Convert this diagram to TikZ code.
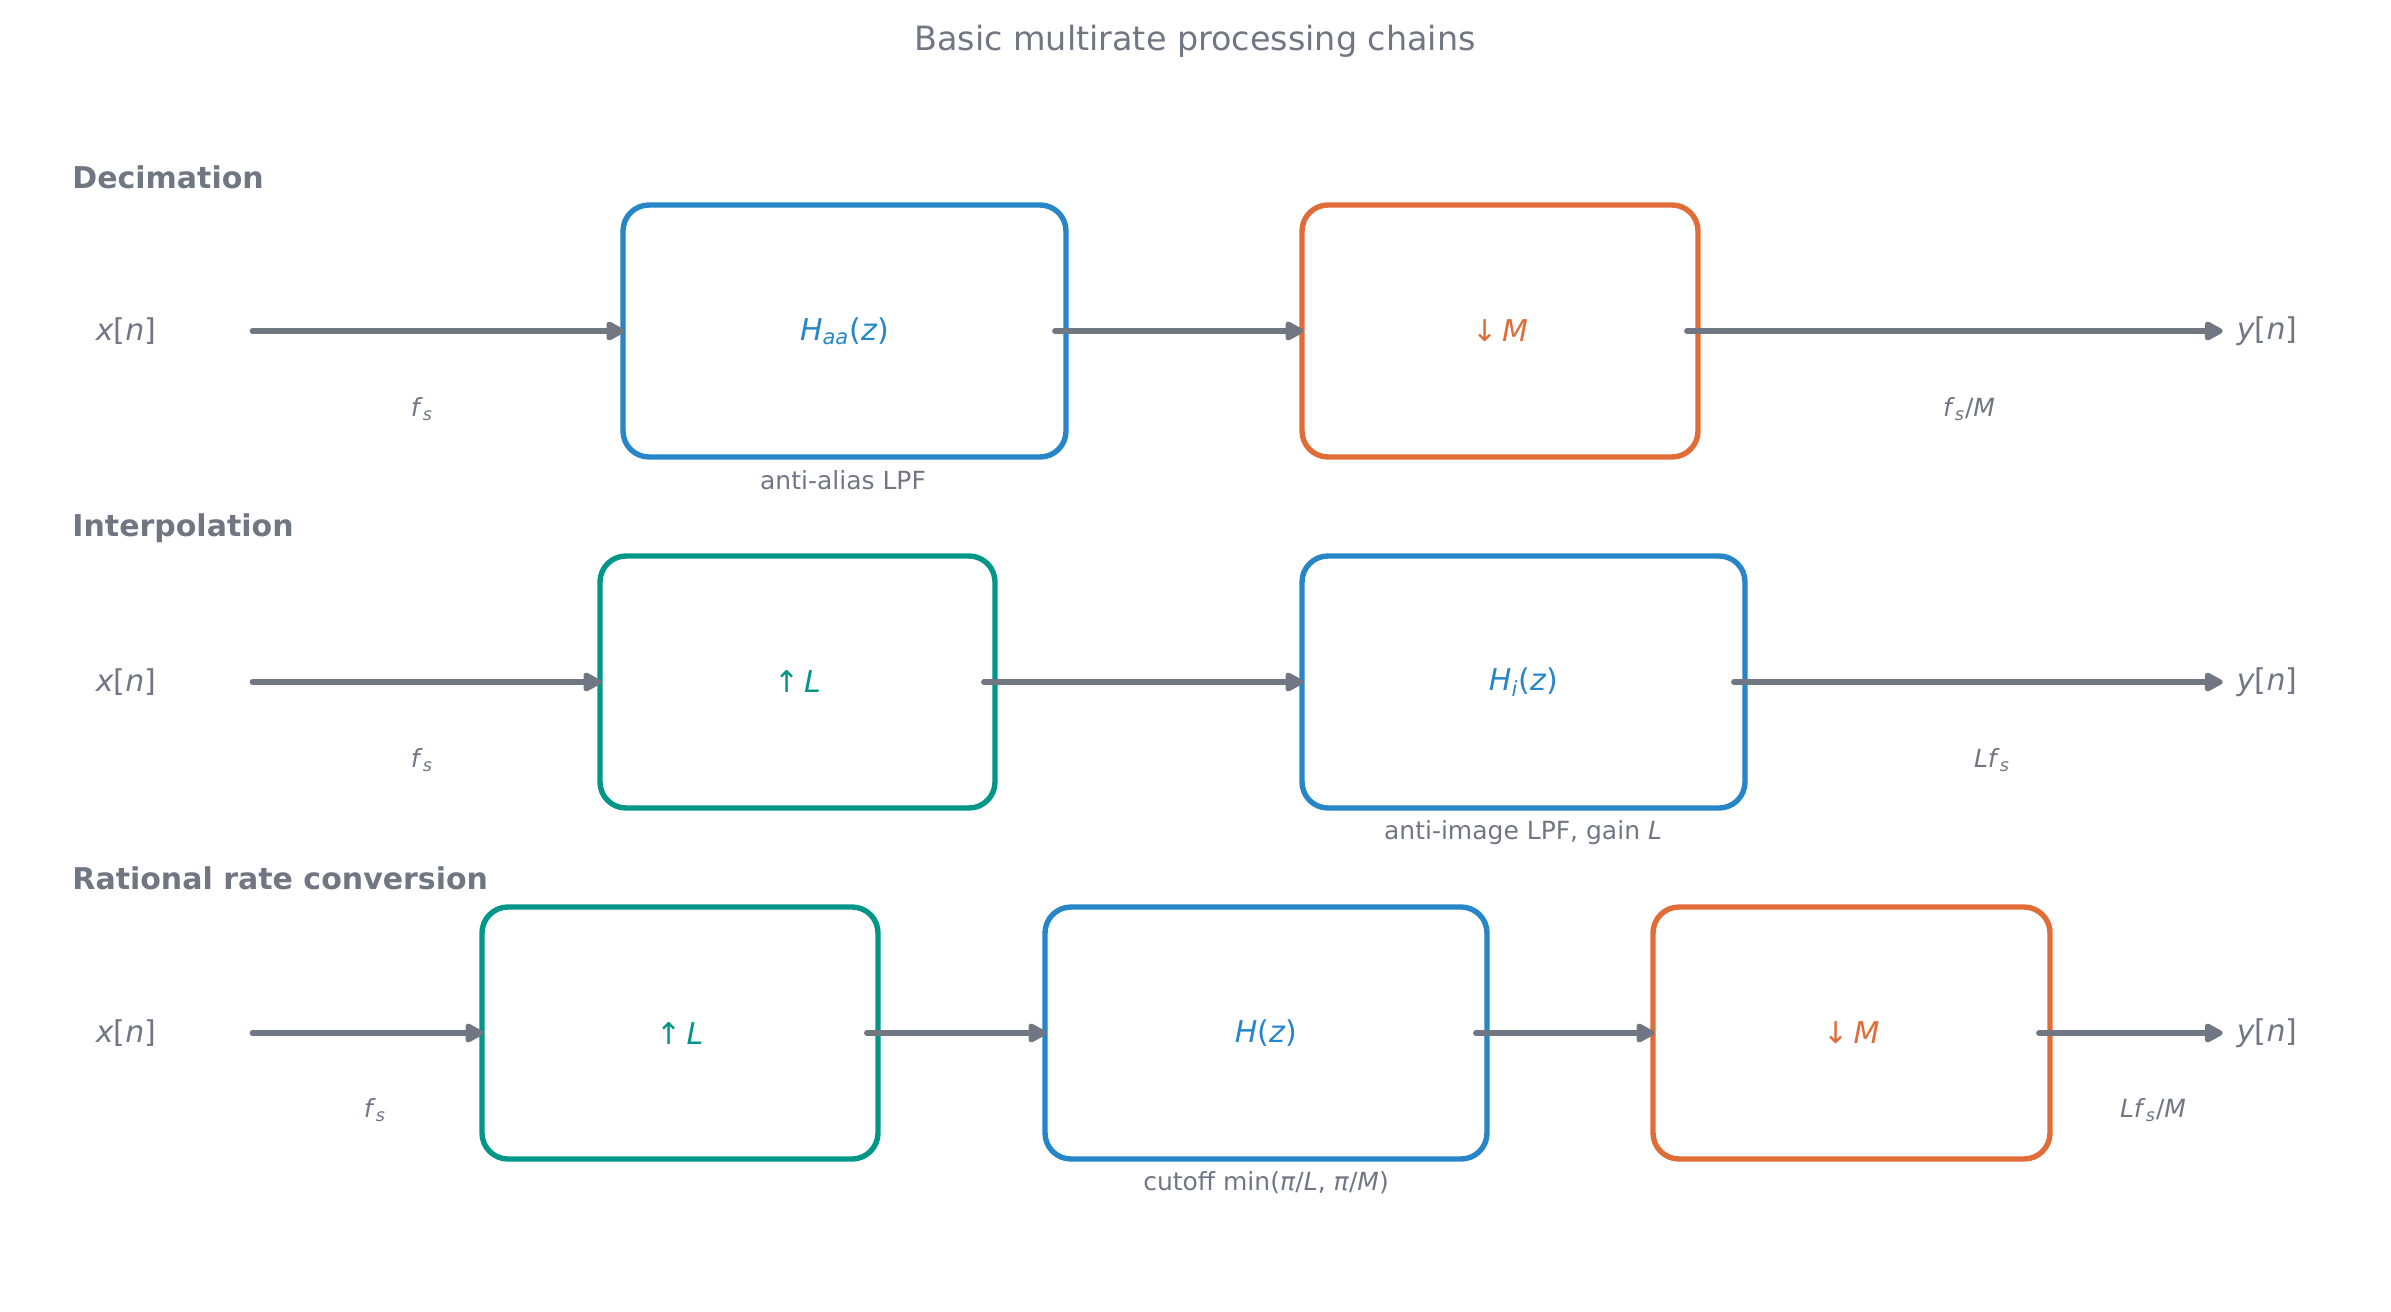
\documentclass[tikz,border=0pt]{standalone}
\usepackage{fontspec}
\setmainfont{DejaVu Sans}
\usetikzlibrary{arrows.meta}

\definecolor{inkgray}{RGB}{112,119,131}
\definecolor{filtblue}{RGB}{38,134,199}
\definecolor{rateorange}{RGB}{224,108,56}
\definecolor{rateteal}{RGB}{0,150,136}

\newcommand{\mv}[1]{\textit{#1}}
\newcommand{\lowidx}[1]{\textsubscript{\textit{#1}}}

\begin{document}
\begin{tikzpicture}[x=0.5pt,y=-0.5pt,
		blk/.style={draw,line width=2.7pt,rounded corners=13pt,minimum height=126pt,inner sep=0pt,font=\fontsize{15}{18}\selectfont},
		filt/.style={blk,draw=filtblue,text=filtblue},
		down/.style={blk,draw=rateorange,text=rateorange},
		up/.style={blk,draw=rateteal,text=rateteal},
		sig/.style={text=inkgray,font=\fontsize{15}{18}\selectfont},
		rate/.style={text=inkgray,font=\fontsize{12.5}{15}\selectfont},
		note/.style={text=inkgray,font=\fontsize{12.5}{15}\selectfont},
		sect/.style={anchor=west,inner sep=0pt,text=inkgray,font=\fontsize{15}{18}\selectfont\bfseries},
		flow/.style={color=inkgray,line width=2.6pt,line cap=round,shorten >=-2pt,-{Triangle[length=10.5pt,width=10.5pt,round]}},
		inner/.style={shorten <=-7pt},
		tosig/.style={shorten >=3.5pt}]
		\useasboundingbox (0,0) rectangle (2391,1311);

		\node[text=inkgray,font=\fontsize{16.7}{20}\selectfont] (title) at (1195,41) {Basic multirate processing chains};

		% decimation
		\node[sect] (dec) at (72,177) {Decimation};
		\node[sig] (x1) at (126,331) {\mv{x}[\mv{n}]};
		\node[filt,minimum width=221.5pt] (aa) at (844.5,331) {\mv{H}\lowidx{aa}(\mv{z})};
		\node[down,minimum width=198pt] (dn1) at (1500,331) {↓\,\mv{M}};
		\node[sig] (y1) at (2267,331) {\mv{y}[\mv{n}]};
		\node[rate] (fs1) at (422,409) {\mv{f}\lowidx{s}};
		\node[rate] (fsm1) at (1969,409) {\mv{f}\lowidx{s}/\mv{M}};
		\node[note] (lbl1) at (843,480) {anti-alias LPF};
		\draw[flow,shorten <=44.5pt] (x1) -- (aa);
		\draw[flow,inner] (aa) -- (dn1);
		\draw[flow,inner,tosig] (dn1) -- (y1);

		% interpolation
		\node[sect] (intp) at (72,528) {Interpolation};
		\node[sig] (x2) at (126,682) {\mv{x}[\mv{n}]};
		\node[up,minimum width=197.5pt] (up2) at (797.5,682) {↑\,\mv{L}};
		\node[filt,minimum width=221.5pt] (hi) at (1523.5,682) {\mv{H}\lowidx{i}(\mv{z})};
		\node[sig] (y2) at (2267,682) {\mv{y}[\mv{n}]};
		\node[rate] (fs2) at (422,760) {\mv{f}\lowidx{s}};
		\node[rate] (lfs2) at (1992,760) {\mv{L}\mv{f}\lowidx{s}};
		\node[note] (lbl2) at (1523,833) {anti-image LPF, gain \mv{L}};
		\draw[flow,shorten <=44.5pt] (x2) -- (up2);
		\draw[flow,inner] (up2) -- (hi);
		\draw[flow,inner,tosig] (hi) -- (y2);

		% rational rate conversion
		\node[sect] (rat) at (72,878) {Rational rate conversion};
		\node[sig] (x3) at (126,1033) {\mv{x}[\mv{n}]};
		\node[up,minimum width=198pt] (up3) at (680,1033) {↑\,\mv{L}};
		\node[filt,minimum width=221pt] (h3) at (1266,1033) {\mv{H}(\mv{z})};
		\node[down,minimum width=198.5pt] (dn3) at (1851.5,1033) {↓\,\mv{M}};
		\node[sig] (y3) at (2267,1033) {\mv{y}[\mv{n}]};
		\node[rate] (fs3) at (375,1110) {\mv{f}\lowidx{s}};
		\node[rate] (lfsm3) at (2153,1110) {\mv{L}\mv{f}\lowidx{s}/\mv{M}};
		\node[note] (lbl3) at (1266,1183) {cutoff min(\mv{π}/\mv{L}, \mv{π}/\mv{M})};
		\draw[flow,shorten <=44.5pt] (x3) -- (up3);
		\draw[flow,inner] (up3) -- (h3);
		\draw[flow,inner] (h3) -- (dn3);
		\draw[flow,inner,tosig] (dn3) -- (y3);
\end{tikzpicture}
\end{document}
